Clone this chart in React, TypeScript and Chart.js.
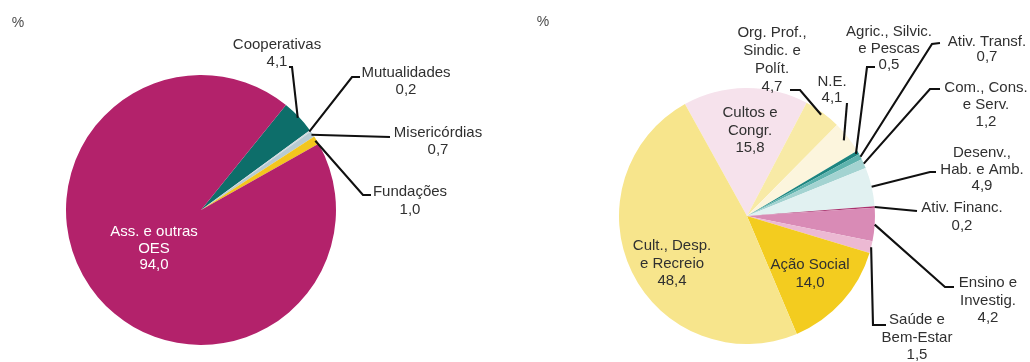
import React, { useEffect, useRef } from "react";
import { Chart, registerables } from "chart.js";

Chart.register(...registerables);

// Organizações por família jurídica (%)
const leftCategories: string[][] = [
  ["Cooperativas"],
  ["Mutualidades"],
  ["Misericórdias"],
  ["Fundações"],
  ["Ass. e outras", "OES"],
];
const leftValues = [4.1, 0.2, 0.7, 1.0, 94.0];
const leftColors = ["#0d6e6a", "#d3dbdf", "#b7cbd3", "#f3c61d", "#b3226b"];

// Organizações por grupo de atividade (%)
const rightCategories: string[][] = [
  ["Cultos e", "Congr."],
  ["Org. Prof.,", "Sindic. e", "Polít."],
  ["N.E."],
  ["Agric., Silvic.", "e Pescas"],
  ["Ativ. Transf."],
  ["Com., Cons.", "e Serv."],
  ["Desenv.,", "Hab. e Amb."],
  ["Ativ. Financ."],
  ["Ensino e", "Investig."],
  ["Saúde e", "Bem-Estar"],
  ["Ação Social"],
  ["Cult., Desp.", "e Recreio"],
];
const rightValues = [15.8, 4.7, 4.1, 0.5, 0.7, 1.2, 4.9, 0.2, 4.2, 1.5, 14.0, 48.4];
const rightColors = [
  "#f6e2ec",
  "#f8eaa6",
  "#fcf5dd",
  "#1d8580",
  "#5fb3ae",
  "#a3d3d1",
  "#e1f1f1",
  "#a8326e",
  "#d98bb6",
  "#ecb9d3",
  "#f3cc1f",
  "#f7e58c",
];

// Label placement, relative to the pie centre. Leader lines start on the
// slice's mid-angle and run through the listed points.
type LabelSpot = {
  dx: number;
  dy: number;
  gap: number;
  color?: string;
  reach?: number;
  leader?: [number, number][];
};

const leftSpots: LabelSpot[] = [
  { dx: 76, dy: -165, gap: 17, leader: [[91, -143], [88, -143]] },
  { dx: 205, dy: -137, gap: 17, leader: [[151, -133], [159, -133]] },
  { dx: 237, dy: -77, gap: 17, leader: [[189, -73]] },
  { dx: 209, dy: -18, gap: 17.5, leader: [[162, -15], [170, -15]] },
  { dx: -47, dy: 22, gap: 16.5, color: "#ffffff" },
];

const rightSpots: LabelSpot[] = [
  { dx: 3, dy: -103, gap: 17.5 },
  { dx: 25, dy: -183, gap: 18, reach: 0.98, leader: [[53, -126], [43, -126]] },
  { dx: 85, dy: -134, gap: 15.5, reach: 0.96, leader: [[100, -113]] },
  { dx: 142, dy: -184, gap: 16.5, reach: 0.98, leader: [[120, -149], [128, -149]] },
  { dx: 240, dy: -174, gap: 15, reach: 1.0, leader: [[185, -172], [193, -173]] },
  { dx: 239, dy: -128, gap: 17, reach: 1.0, leader: [[183, -127], [193, -127]] },
  { dx: 235, dy: -63, gap: 16.5, reach: 1.0, leader: [[183, -44], [189, -44]] },
  { dx: 215, dy: -8, gap: 18, reach: 1.0, leader: [[170, -5]] },
  { dx: 241, dy: 67, gap: 17.5, reach: 1.0, leader: [[198, 71], [207, 71]] },
  { dx: 170, dy: 104, gap: 17.5, reach: 1.0, leader: [[126, 109], [139, 109]] },
  { dx: 63, dy: 49, gap: 18 },
  { dx: -75, dy: 30, gap: 17.5 },
];

const fmt = (v: number) => v.toFixed(1).replace(".", ",");

const sliceLabels = {
  id: "sliceLabels",
  afterDatasetsDraw(chart: any, _args: any, opts: any) {
    const ctx: CanvasRenderingContext2D = chart.ctx;
    const meta = chart.getDatasetMeta(0);
    const values: number[] = chart.data.datasets[0].data;
    const names: string[][] = chart.data.labels;
    const spots: LabelSpot[] = opts.spots;
    ctx.save();
    ctx.font = '15px "Liberation Sans", Arial, sans-serif';
    ctx.textAlign = "center";
    ctx.textBaseline = "middle";
    ctx.strokeStyle = "#101010";
    ctx.lineWidth = 2.1;
    ctx.lineJoin = "miter";
    meta.data.forEach((arc: any, i: number) => {
      const { x, y, startAngle, endAngle, outerRadius } = arc.getProps(
        ["x", "y", "startAngle", "endAngle", "outerRadius"],
        true
      );
      const spot = spots[i];
      if (spot.leader) {
        const mid = (startAngle + endAngle) / 2;
        const r = outerRadius * (spot.reach ?? 0.99);
        ctx.beginPath();
        ctx.moveTo(x + Math.cos(mid) * r, y + Math.sin(mid) * r);
        spot.leader.forEach(([px, py]) => ctx.lineTo(x + px, y + py));
        ctx.stroke();
      }
      ctx.fillStyle = spot.color ?? "#303030";
      const lines = [...names[i], fmt(values[i])];
      lines.forEach((t, k) => ctx.fillText(t, x + spot.dx, y + spot.dy + k * spot.gap));
    });
    ctx.font = '14px "Liberation Sans", Arial, sans-serif';
    ctx.fillStyle = "#4a4a4a";
    ctx.fillText("%", opts.unitX, opts.unitY);
    ctx.restore();
  },
};

function makeConfig(
  categories: string[][],
  values: number[],
  colors: string[],
  rotation: number,
  padding: { left: number; right: number; top: number; bottom: number },
  spots: LabelSpot[],
  unitX: number,
  unitY: number
): any {
  return {
    type: "pie",
    data: {
      labels: categories,
      datasets: [
        {
          data: values,
          backgroundColor: colors,
          borderWidth: 0,
        },
      ],
    },
    options: {
      animation: false,
      responsive: true,
      maintainAspectRatio: false,
      rotation,
      layout: { padding },
      events: [],
      plugins: {
        legend: { display: false },
        tooltip: { enabled: false },
        sliceLabels: { spots, unitX, unitY },
      },
    },
    plugins: [sliceLabels],
  };
}

function PieCanvas({ config, left }: { config: any; left: number }) {
  const ref = useRef<HTMLCanvasElement>(null);
  useEffect(() => {
    const chart = new Chart(ref.current as HTMLCanvasElement, config);
    return () => chart.destroy();
  }, []);
  return (
    <div style={{ position: "absolute", left, top: 0, width: 515, height: 362 }}>
      <canvas ref={ref} />
    </div>
  );
}

export default function App() {
  const leftConfig = makeConfig(
    leftCategories,
    leftValues,
    leftColors,
    39,
    { left: 66, right: 179, top: 75, bottom: 17 },
    leftSpots,
    18,
    23
  );
  const rightConfig = makeConfig(
    rightCategories,
    rightValues,
    rightColors,
    -29,
    { left: 104, right: 155, top: 88, bottom: 18 },
    rightSpots,
    28,
    22
  );
  return (
    <div
      style={{
        position: "absolute",
        left: 0,
        top: 0,
        width: 1030,
        height: 362,
        background: "#ffffff",
        overflow: "hidden",
      }}
    >
      <PieCanvas config={leftConfig} left={0} />
      <PieCanvas config={rightConfig} left={515} />
    </div>
  );
}
